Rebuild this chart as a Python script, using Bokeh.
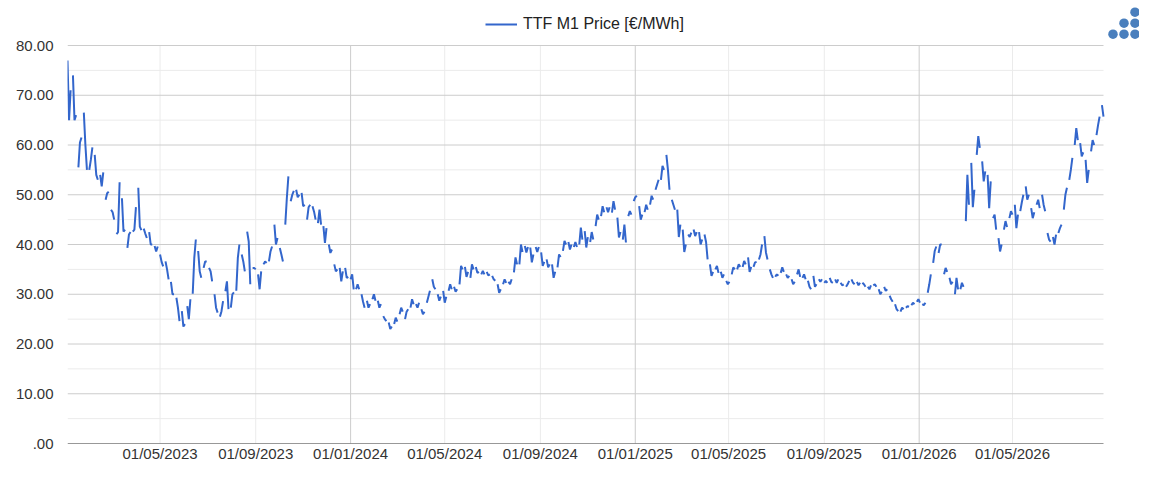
import numpy as np
import pandas as pd
from bokeh.plotting import figure
from bokeh.models import (ColumnDataSource, Range1d, FixedTicker, DatetimeTickFormatter,
                          Legend, LegendItem)
from bokeh.embed import file_html
from bokeh.resources import INLINE

series_name = "TTF M1 Price [€/MWh]"
first_monday = "2023-01-02"
last_day = "2026-08-26"
weekday_offsets = [0, 2, 4]   # Mon, Wed, Fri quotes of each week

# weekly (Mon, Wed, Fri) prices
prices_2023 = [
    (77, 65, 71), (74, 65, 66), (55.5, 60.5, 61.5), (66.5, 60, 55), (55, 57, 59.5),
    (58, 54, 53), (54, 51.7, 54.5), (49, 50.3, 50.6), (47, 46.5, 45), (42.1, 42.5, 52.5),
    (49.3, 42.6, 43), (39.3, 42, 42.5), (42.6, 43, 47.5), (51.4, 43.6, 42.9), (43.2, 42.2, 41.3),
    (42.5, 40, 40), (39.7, 38.6, 39.6), (38, 36.5, 35.6), (36.6, 35, 33), (32.5, 30, 30),
    (29.3, 27.3, 24.6), (26.6, 23.5, 24), (27.6, 25, 29), (30.1, 37.3, 41), (38.7, 34.6, 33.3),
    (35.3, 36.6, 36.6), (35.3, 34.6, 32.6), (30, 27.3, 26.3), (25.5, 26.6, 28.6), (30.6, 32.6, 27),
    (27.3, 30, 30.4), (30.7, 37.3, 40), (38, 36.6, 34.6), (42.6, 40.6, 32), (35.3, 35.3, 35),
    (34, 31, 34.6), (36, 36.6, 36.3), (36.6, 38.6, 39.6), (44, 40, 41.3), (39.3, 38, 36.6),
    (44, 49.3, 53.7), (48.7, 50, 50.8), (51, 49.5, 50), (50.4, 47.7, 48), (45, 47.5, 48),
    (47.7, 46.6, 45), (44.3, 47, 44), (43.7, 40.3, 43.3), (40, 38.3, 39), (36, 34.6, 35),
    (35.3, 32.6, 34.6), (35.3, 33.3, 33.5),
]
prices_2024 = [
    (33, 34, 31), (31, 32, 31), (30, 28.5, 27.3), (28.7, 27.3, 28), (29, 30, 28.7),
    (28.7, 27.3, 28), (25.6, 25, 24.6), (24.3, 23, 23.5), (24, 25.3, 24.5), (26, 27.3, 26.5),
    (25, 26.5, 27), (27.3, 29, 28), (28, 27.3, 28.3), (27, 26, 26.5), (28.3, 29.5, 30.7),
    (33, 31.5, 31), (30, 28.7, 29.5), (30.7, 28.3, 29.5), (30.7, 32, 31), (31.5, 30.5, 31),
    (32, 35.7, 35), (35.5, 33.5, 34.5), (33.3, 36, 35), (35.5, 34.3, 34.5), (34, 34.7, 34),
    (34.5, 33.8, 34), (33.7, 33, 32.7), (32, 30.3, 31), (32, 33, 32.3), (32.5, 32, 33),
    (34.4, 37.4, 36), (36, 40, 38.5), (39.7, 38.4, 39.5), (39.4, 36.4, 38), (39.5, 38.5, 39.5),
    (38.4, 35.7, 36.5), (37, 35.4, 36), (36, 33.3, 34.5), (35.4, 38, 37.5), (38.7, 40.7, 40),
    (40.5, 39, 40), (39.5, 40.5, 39.5), (40, 43.4, 41), (42.7, 39.4, 41.5), (40.5, 42.5, 41),
    (43.7, 46, 45), (45.7, 47.7, 46.5), (47.5, 46.5, 47.5), (46.4, 48.7, 47), (45.4, 41.4, 42.5),
    (41, 44, 40.4), (45.7, 46.7, 46),
]
prices_2025 = [
    (48.7, 49.5, 49.8), (47.7, 45, 46), (46.5, 48, 47), (48, 49.8, 49), (51, 52, 53),
    (53, 55.8, 55), (58, 55, 51), (49, 48, 47), (47, 41.5, 44), (43, 38.5, 40),
    (42, 41.5, 42.4), (43, 41.7, 42.5), (42.5, 40, 41), (42, 40.5, 37), (36, 33.7, 34.5),
    (35, 35.7, 34.3), (34.5, 33.3, 34), (32.7, 32, 32.5), (34, 35.4, 35), (35, 36, 35.5),
    (35.5, 36.7, 36), (37.4, 34.5, 35.5), (35.5, 36.4, 36.5), (37, 38, 40), (41.7, 38.4, 37),
    (35, 34, 33.3), (33.5, 34, 33.7), (34.3, 35.4, 34.5), (34, 33.3, 33.7), (33, 32, 32.5),
    (34, 35, 33.5), (33.3, 34, 33), (32.7, 31.5, 31), (33.7, 31.5, 32), (33, 32.5, 33),
    (32.3, 32.7, 32.3), (33.3, 32.5, 32.3), (33, 32.3, 33), (32.3, 31.8, 32), (31.5, 32, 32.7),
    (33, 32.3, 32), (32.5, 31.8, 32.3), (32.3, 32, 31.5), (31.5, 31, 31.8), (31.8, 32, 31.5),
    (31, 30, 30.5), (31.5, 30.7, 31), (29.7, 29, 28.5), (28, 27, 26.6), (26.5, 27.3, 27),
    (27.3, 27.6, 27.5), (27.8, 28.3, 28),
]
prices_2026 = [
    (28.5, 29, 28.3), (28, 27.8, 28.3), (30.3, 32, 34), (36.3, 38.7, 39.6), (38.3, 40, 40),
    (34, 35.3, 34.5), (33.3, 32, 32.5), (30, 33.3, 31), (31, 32.3, 31.5), (44.7, 54, 48),
    (56.4, 47.5, 51), (58, 61.8, 59.4), (56.7, 52.7, 54.7), (54, 47.3, 52.7), (45.3, 46, 43),
    (41.3, 38.6, 40), (43, 44.7, 43.5), (45.3, 46.7, 46), (48, 43.3, 46), (46.7, 48.5, 50),
    (51.7, 49, 50), (47.3, 45.3, 46.5), (48, 49, 47.3), (50, 48, 46.7), (42.3, 41, 40.6),
    (41.5, 40, 42), (42.3, 43.3, 44), (47, 50, 51.4), (53, 55, 57.4), (60, 63.4, 61),
    (60.4, 57.7, 58.5), (57, 52.4, 55), (58.7, 61, 60), (62, 64, 65.7), (68, 65.7),
]

y_ticks = [0, 10, 20, 30, 40, 50, 60, 70, 80]
y_tick_labels = [".00", "10.00", "20.00", "30.00", "40.00", "50.00", "60.00", "70.00", "80.00"]
y_minor = [5, 15, 25, 35, 45, 55, 65, 75]
x_year_ticks = ["2024-01-01", "2025-01-01", "2026-01-01"]
x_minor_ticks = ["2023-05-01", "2023-09-01", "2024-05-01", "2024-09-01",
                 "2025-05-01", "2025-09-01", "2026-05-01"]

# ---- build the series (NaN after Friday breaks the line over the weekend)
weeks = prices_2023 + prices_2024 + prices_2025 + prices_2026
start = pd.Timestamp(first_monday)
xs, ys = [], []
for w, week in enumerate(weeks):
    monday = start + pd.Timedelta(days=7 * w)
    for off, v in zip(weekday_offsets, week):
        xs.append(monday + pd.Timedelta(days=off))
        ys.append(v)
    xs.append(monday + pd.Timedelta(days=5))
    ys.append(np.nan)
source = ColumnDataSource(data=dict(date=pd.to_datetime(xs), price=np.array(ys, dtype=float)))


def ms(d):
    return pd.Timestamp(d).value / 1e6


# ---- layout: the plotting frame is extended to the top and right edges so that the
# legend and the logo (which sit outside the data area) are not clipped.
W, H = 1139, 464
LEFT, BOTTOM = 67, 21
DATA_W, DATA_TOP = 1036, 45            # width of the data area, its top offset
FRAME_W, FRAME_H = W - LEFT, H - BOTTOM
Y_MAX = 80
x0, x1 = ms(first_monday), ms(last_day)
x_end = x0 + (x1 - x0) * FRAME_W / DATA_W
y_end = Y_MAX * FRAME_H / (FRAME_H - DATA_TOP)

p = figure(width=W, height=H, x_axis_type="datetime", output_backend="svg",
           toolbar_location=None,
           x_range=Range1d(x0, x_end), y_range=Range1d(0, y_end),
           min_border_left=LEFT, min_border_right=0, min_border_top=0, min_border_bottom=BOTTOM)
p.outline_line_color = None
p.background_fill_color = "white"
p.border_fill_color = "white"
p.xgrid.visible = False
p.ygrid.visible = False

# grid lines, limited to the data area
minor_x = [ms(d) for d in x_minor_ticks]
major_x = [ms(d) for d in x_year_ticks]
p.segment(x0=minor_x, x1=minor_x, y0=[0] * len(minor_x), y1=[Y_MAX] * len(minor_x),
          line_color="#ebebeb", line_width=1)
p.segment(x0=[x0] * len(y_minor), x1=[x1] * len(y_minor), y0=y_minor, y1=y_minor,
          line_color="#ebebeb", line_width=1)
p.segment(x0=major_x, x1=major_x, y0=[0] * len(major_x), y1=[Y_MAX] * len(major_x),
          line_color="#cccccc", line_width=1)
p.segment(x0=[x0] * (len(y_ticks) - 1), x1=[x1] * (len(y_ticks) - 1),
          y0=y_ticks[1:], y1=y_ticks[1:], line_color="#cccccc", line_width=1)
p.segment(x0=[x0], x1=[x1], y0=[0], y1=[0], line_color="#333333", line_width=1)

# axes
p.xaxis.ticker = FixedTicker(ticks=sorted(major_x + minor_x))
fmt = "%d/%m/%Y"
p.xaxis.formatter = DatetimeTickFormatter(milliseconds=fmt, seconds=fmt, minsec=fmt, minutes=fmt,
                                          hourmin=fmt, hours=fmt, days=fmt, months=fmt, years=fmt)
p.yaxis.ticker = FixedTicker(ticks=y_ticks)
p.yaxis.major_label_overrides = {float(t): l for t, l in zip(y_ticks, y_tick_labels)}
for ax in (p.xaxis, p.yaxis):
    ax.axis_line_color = None
    ax.major_tick_line_color = None
    ax.minor_tick_line_color = None
    ax.major_tick_out = 0
    ax.major_tick_in = 0
    ax.major_label_text_font = "Liberation Sans"
    ax.major_label_text_font_size = "15px"
    ax.major_label_text_color = "#333333"
p.xaxis.major_label_standoff = 1
p.yaxis.major_label_standoff = 14

r = p.line("date", "price", source=source, line_color="#3366cc", line_width=2)

legend = Legend(items=[LegendItem(label=series_name, renderers=[r])], location=(418, 410),
                orientation="horizontal", label_text_font="Liberation Sans",
                label_text_font_size="16px", label_text_color="#222222",
                glyph_width=32, glyph_height=18, label_height=18, label_standoff=6,
                padding=0, margin=0, spacing=0, border_line_color=None,
                background_fill_alpha=0)
p.add_layout(legend)

# logo dots in the top right corner (positions in frame pixels -> data units)
logo_px_x = [1067.5, 1056.5, 1067.5, 1045.5, 1056.5, 1067.5]
logo_px_y = [431.3, 420.3, 420.3, 409.3, 409.3, 409.3]
logo_x = [x0 + v * (x_end - x0) / FRAME_W for v in logo_px_x]
logo_y = [v * y_end / FRAME_H for v in logo_px_y]
p.scatter(logo_x, logo_y, size=9.5, fill_color="#4a7fbd", line_color=None)

open("out.html", "w").write(file_html(p, INLINE))
